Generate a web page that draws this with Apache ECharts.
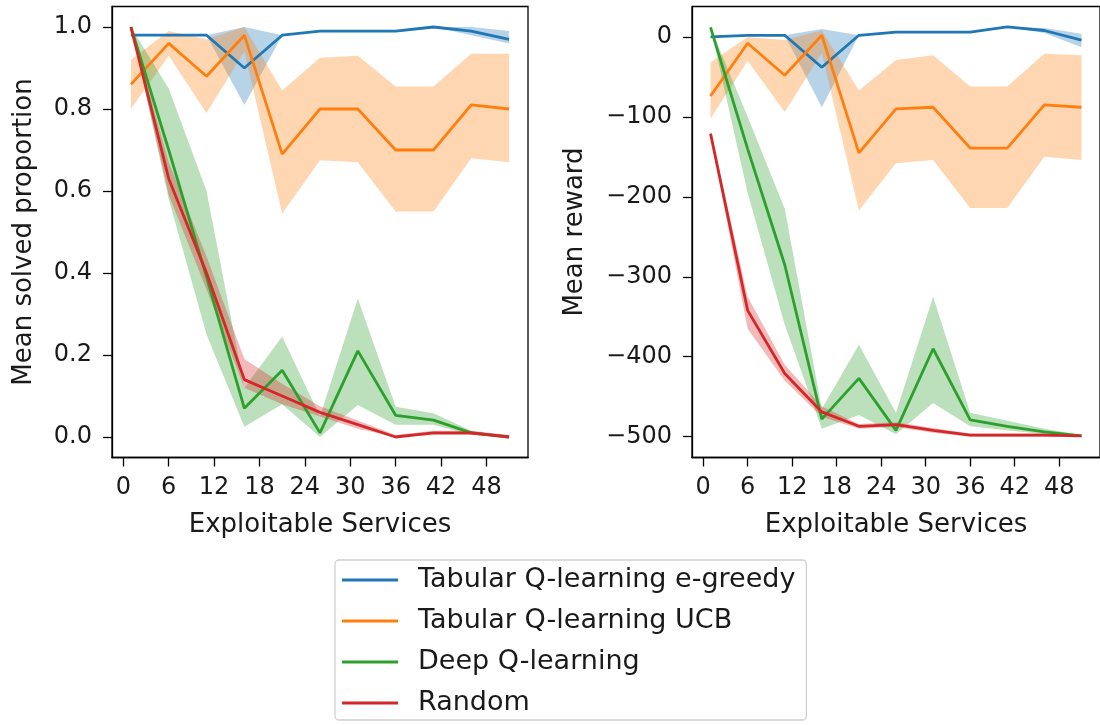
<!DOCTYPE html>
<html>
<head>
<meta charset="utf-8">
<script src="https://cdn.jsdelivr.net/npm/echarts@6/dist/echarts.min.js"></script>
<style>
  html, body { margin:0; padding:0; background:#fff; }
  #chart { width:1100px; height:725px; }
</style>
</head>
<body>
<div id="chart"></div>
<script type="text/javascript">
// exploitable services (x positions)
var services = [1, 6, 11, 16, 21, 26, 31, 36, 41, 46, 51];
var xTicks = [0, 6, 12, 18, 24, 30, 36, 42, 48];
var solvedTicks = [0, 0.2, 0.4, 0.6, 0.8, 1.0];
var rewardTicks = [-500, -400, -300, -200, -100, 0];

var names = ['Tabular Q-learning e-greedy', 'Tabular Q-learning UCB', 'Deep Q-learning', 'Random'];
var colors = ['#1f77b4', '#ff7f0e', '#2ca02c', '#d62728'];

// mean solved proportion (mean, lower, upper)
var solvedEgreedy   = [0.98, 0.98, 0.98, 0.90, 0.98, 0.99, 0.99, 0.99, 1.00, 0.99, 0.97];
var solvedEgreedyLo = [0.98, 0.98, 0.98, 0.81, 0.98, 0.99, 0.99, 0.99, 1.00, 0.98, 0.96];
var solvedEgreedyHi = [0.98, 0.98, 0.98, 1.00, 0.98, 0.99, 0.99, 0.99, 1.00, 1.00, 0.99];
var solvedUcb   = [0.86, 0.96, 0.88, 0.98, 0.69, 0.80, 0.80, 0.70, 0.70, 0.81, 0.80];
var solvedUcbLo = [0.80, 0.93, 0.79, 0.94, 0.545, 0.675, 0.67, 0.55, 0.55, 0.68, 0.67];
var solvedUcbHi = [0.92, 0.99, 0.97, 1.00, 0.845, 0.925, 0.93, 0.855, 0.855, 0.935, 0.935];
var solvedDqn   = [1.00, 0.70, 0.39, 0.07, 0.163, 0.01, 0.21, 0.053, 0.041, 0.01, 0.00];
var solvedDqnLo = [1.00, 0.58, 0.25, 0.025, 0.08, 0.00, 0.078, 0.03, 0.03, 0.005, 0.00];
var solvedDqnHi = [1.00, 0.85, 0.60, 0.12, 0.245, 0.05, 0.338, 0.074, 0.058, 0.015, 0.00];
var solvedRandom   = [1.00, 0.63, 0.40, 0.14, 0.10, 0.06, 0.03, 0.00, 0.01, 0.01, 0.00];
var solvedRandomLo = [1.00, 0.59, 0.36, 0.12, 0.08, 0.05, 0.02, 0.00, 0.005, 0.005, 0.00];
var solvedRandomHi = [1.00, 0.67, 0.44, 0.19, 0.13, 0.075, 0.04, 0.005, 0.015, 0.015, 0.005];

// mean reward (mean, lower, upper)
var rewardEgreedy   = [0, 2, 2, -38, 2, 6, 6, 6, 12.5, 8, -4];
var rewardEgreedyLo = [0, 2, 2, -88, 2, 6, 6, 6, 12.5, 5, -13];
var rewardEgreedyHi = [0, 2, 2, 10, 2, 6, 6, 6, 12.5, 11, 4];
var rewardUcb   = [-74, -8, -48, 2, -145, -90, -88, -139, -139, -85, -88];
var rewardUcbLo = [-102, -30, -94, -20, -217, -158, -154, -214, -214, -150, -154];
var rewardUcbHi = [-32, 0, -4, 8, -67, -29, -23, -62, -62, -21, -23];
var rewardDqn   = [12, -140, -285, -478, -427, -492, -390, -479, -487, -494, -499];
var rewardDqnLo = [12, -195, -360, -490, -473, -497, -458, -487, -492, -497, -500];
var rewardDqnHi = [12, -100, -215, -465, -385, -470, -325, -470, -480, -490, -498];
var rewardRandom   = [-121, -342, -421, -469, -487, -485, -492, -498, -498, -498, -499];
var rewardRandomLo = [-124, -365, -430, -475, -490, -488, -495, -500, -500, -500, -500];
var rewardRandomHi = [-118, -325, -410, -462, -484, -482, -489, -496, -496, -496, -498];

var FONT = 'DejaVu Sans';

function pairs(vals) {
  return services.map(function (x, i) { return [x, vals[i]]; });
}
function hexAlpha(hex, a) {
  var r = parseInt(hex.slice(1, 3), 16), g = parseInt(hex.slice(3, 5), 16), b = parseInt(hex.slice(5, 7), 16);
  return 'rgba(' + r + ',' + g + ',' + b + ',' + a + ')';
}

// shaded band between lower and upper, drawn as one polygon through the axes' scales
function bandSeries(idx, k, lo, hi) {
  return {
    type: 'custom', xAxisIndex: idx, yAxisIndex: idx, silent: true, z: 1,
    data: services.map(function (x, i) { return [x, lo[i], hi[i]]; }),
    encode: { x: 0, y: [1, 2] },
    renderItem: function (params, api) {
      if (params.dataIndexInside !== 0) return null;
      var n = params.dataInsideLength, top = [], bottom = [];
      for (var i = 0; i < n; i++) {
        top.push(api.coord([api.value(0, i), api.value(2, i)]));
        bottom.push(api.coord([api.value(0, i), api.value(1, i)]));
      }
      return {
        type: 'polygon',
        shape: { points: top.concat(bottom.reverse()) },
        style: { fill: hexAlpha(colors[k], 0.32), stroke: null }
      };
    }
  };
}
function meanSeries(idx, k, vals) {
  return {
    name: names[k], type: 'line', xAxisIndex: idx, yAxisIndex: idx,
    data: pairs(vals), showSymbol: false, symbol: 'none',
    lineStyle: { color: colors[k], width: 2.8 }, itemStyle: { color: colors[k] }, z: 3
  };
}

var solvedSets = [[solvedEgreedy, solvedEgreedyLo, solvedEgreedyHi], [solvedUcb, solvedUcbLo, solvedUcbHi],
                  [solvedDqn, solvedDqnLo, solvedDqnHi], [solvedRandom, solvedRandomLo, solvedRandomHi]];
var rewardSets = [[rewardEgreedy, rewardEgreedyLo, rewardEgreedyHi], [rewardUcb, rewardUcbLo, rewardUcbHi],
                  [rewardDqn, rewardDqnLo, rewardDqnHi], [rewardRandom, rewardRandomLo, rewardRandomHi]];

var series = [];
[solvedSets, rewardSets].forEach(function (sets, idx) {
  sets.forEach(function (s, k) { series.push(bandSeries(idx, k, s[1], s[2])); });
  sets.forEach(function (s, k) { series.push(meanSeries(idx, k, s[0])); });
});

function xAxisFor(idx) {
  return {
    type: 'value', gridIndex: idx, min: -1.5, max: 53.5,
    name: 'Exploitable Services', nameLocation: 'middle', nameGap: 55,
    nameTextStyle: { fontFamily: FONT, fontSize: 26, color: '#1a1a1a' },
    axisLine: { show: true, onZero: false, lineStyle: { color: '#000', width: 1.3 } },
    axisTick: { show: true, customValues: xTicks, length: 9, lineStyle: { color: '#000', width: 1.3 } },
    axisLabel: { customValues: xTicks, margin: 18, fontFamily: FONT, fontSize: 24, color: '#1a1a1a' },
    splitLine: { show: false }
  };
}
function yAxisFor(idx, min, max, ticks, gap, name, fmt) {
  return {
    type: 'value', gridIndex: idx, min: min, max: max,
    name: name, nameLocation: 'middle', nameGap: gap, nameRotate: 90,
    nameTextStyle: { fontFamily: FONT, fontSize: 26, color: '#1a1a1a' },
    axisLine: { show: true, onZero: false, lineStyle: { color: '#000', width: 1.3 } },
    axisTick: { show: true, customValues: ticks, length: 9, lineStyle: { color: '#000', width: 1.3 } },
    axisLabel: { customValues: ticks, margin: 20, fontFamily: FONT, fontSize: 24, color: '#1a1a1a', formatter: fmt },
    splitLine: { show: false }
  };
}

var option = {
  animation: false,
  backgroundColor: '#fff',
  grid: [
    { left: 112, top: 6.5, width: 416, height: 451, show: true, borderColor: '#000', borderWidth: 1.3, containLabel: false },
    { left: 692, top: 6.5, width: 416, height: 451, show: true, borderColor: '#000', borderWidth: 1.3, containLabel: false }
  ],
  xAxis: [xAxisFor(0), xAxisFor(1)],
  yAxis: [
    yAxisFor(0, -0.05, 1.05, solvedTicks, 75, 'Mean solved proportion', function (v) { return v.toFixed(1); }),
    yAxisFor(1, -526, 38, rewardTicks, 104, 'Mean reward', function (v) { return String(v).replace('-', '\u2212'); })
  ],
  legend: {
    data: names, orient: 'vertical', left: 335, top: 560,
    icon: 'rect', itemWidth: 56, itemHeight: 3, itemGap: 11,
    padding: [5, 11, 2, 7],
    borderColor: '#d0d0d0', borderWidth: 1.3, borderRadius: 4,
    textStyle: { fontFamily: FONT, fontSize: 27, color: '#1a1a1a', lineHeight: 30, padding: [0, 0, 0, 15] }
  },
  series: series
};

var myChart = echarts.init(document.getElementById('chart'));
myChart.setOption(option);
</script>
</body>
</html>
